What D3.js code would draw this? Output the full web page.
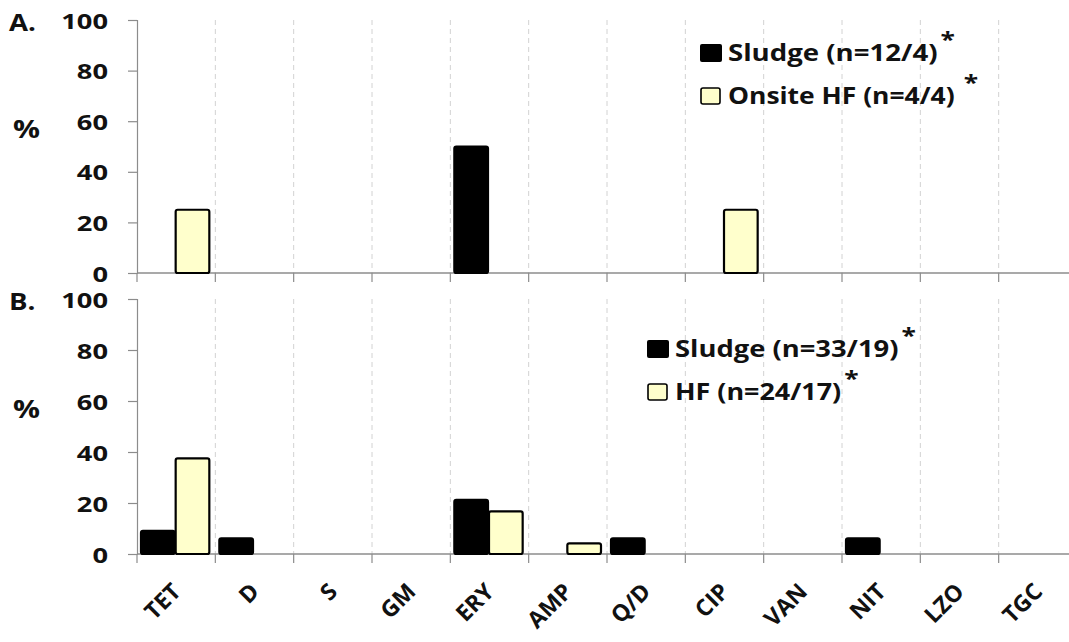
<!DOCTYPE html>
<html>
<head>
<meta charset="utf-8">
<script src="https://cdn.jsdelivr.net/npm/d3@7/dist/d3.min.js"></script>
<style>
  html, body { margin: 0; padding: 0; background: #fff; }
  svg { display: block; font-family: "Open Sans", Lato, sans-serif; font-weight: bold; }
</style>
</head>
<body>
<svg id="chart" width="1069" height="642"></svg>
<script>
// Antibiotic classes on the shared x axis
const categories = ["TET", "D", "S", "GM", "ERY", "AMP", "Q/D", "CIP", "VAN", "NIT", "LZO", "TGC"];
const yTicks = [0, 20, 40, 60, 80, 100];

// Panel A: sludge vs onsite HF, % resistant
const sludgeA = [0, 0, 0, 0, 50, 0, 0, 0, 0, 0, 0, 0];
const onsiteHFA = [25, 0, 0, 0, 0, 0, 0, 25, 0, 0, 0, 0];

// Panel B: sludge vs HF, % resistant
const sludgeB = [9.1, 6.1, 0, 0, 21.2, 0, 6.1, 0, 0, 6.1, 0, 0];
const hfB = [37.5, 0, 0, 0, 16.7, 4.2, 0, 0, 0, 0, 0, 0];

const legendA = ["Sludge (n=12/4)", "Onsite HF (n=4/4)"];
const legendB = ["Sludge (n=33/19)", "HF (n=24/17)"];
const seriesColors = ["#000000", "#ffffcc"];

const svg = d3.select("#chart");
const axisColor = "#8c8c8c";
const textColor = "#111";
const stretch = 1.2;   // wide lettering used throughout

const x = d3.scaleBand().domain(categories).range([137, 1077]);
const xSub = d3.scaleBand().domain([0, 1]).range([3, x.bandwidth() - 6]);

// text placed at (px, py), widened horizontally
function wideText(parent, str, px, py, size, sx) {
  return parent.append("text")
    .attr("transform", `translate(${px},${py}) scale(${sx || stretch},1)`)
    .attr("font-size", size)
    .attr("fill", textColor)
    .text(str);
}

function panel(opts) {
  const y = d3.scaleLinear().domain([0, 100]).range([opts.bottom, opts.top]);
  const g = svg.append("g");

  // dashed vertical separators between categories
  g.selectAll("line.grid")
    .data(categories.slice(1))
    .join("line")
    .attr("x1", d => x(d)).attr("x2", d => x(d))
    .attr("y1", opts.top).attr("y2", opts.bottom)
    .attr("stroke", "#d2d2d2").attr("stroke-width", 1)
    .attr("stroke-dasharray", "5,4");

  // y axis
  const yAxis = d3.axisLeft(y).tickValues(yTicks).tickSize(9).tickPadding(0);
  const ya = g.append("g").attr("transform", `translate(${x.range()[0]},0)`).call(yAxis);
  ya.select(".domain").attr("stroke", axisColor).attr("stroke-width", 1.2);
  ya.selectAll(".tick line").attr("stroke", axisColor).attr("stroke-width", 1.2);
  ya.selectAll(".tick text")
    .attr("x", null).attr("dy", null)
    .attr("transform", `translate(-29,8) scale(1.24,1)`)
    .attr("font-size", 22).attr("font-weight", "bold")
    .attr("font-family", "'Open Sans', sans-serif").attr("fill", textColor);

  // x axis with ticks on category boundaries
  const xa = g.append("g");
  xa.append("line")
    .attr("x1", x.range()[0]).attr("x2", 1069)
    .attr("y1", opts.bottom).attr("y2", opts.bottom)
    .attr("stroke", axisColor).attr("stroke-width", 1.5);
  xa.selectAll("line.tk")
    .data(categories)
    .join("line")
    .attr("class", "tk")
    .attr("x1", d => x(d)).attr("x2", d => x(d))
    .attr("y1", opts.bottom).attr("y2", opts.bottom + 9)
    .attr("stroke", axisColor).attr("stroke-width", 1.2);

  // bars
  [opts.s1, opts.s2].forEach((vals, si) => {
    g.selectAll(null)
      .data(vals.map((v, i) => ({ v, c: categories[i] })).filter(d => d.v > 0))
      .join("rect")
      .attr("x", d => x(d.c) + xSub(si) + 1)
      .attr("width", xSub.bandwidth() - 1)
      .attr("y", d => y(d.v))
      .attr("height", d => y(0) - y(d.v))
      .attr("rx", 2)
      .attr("fill", seriesColors[si])
      .attr("stroke", "#000").attr("stroke-width", 2.2);
  });

  // panel label and unit
  wideText(g, opts.label, 9, opts.top + 11, 23);
  wideText(g, "%", 13, y(60) + 17, 25);

  // legend
  opts.legend.forEach((t, i) => {
    const lx = opts.legendX, ly = opts.legendY + i * opts.legendGap;
    const filled = i === 0;
    g.append("rect")
      .attr("x", lx + (filled ? 0 : 1)).attr("y", ly - (filled ? 17 : 16))
      .attr("width", filled ? 22 : 19).attr("height", filled ? 18 : 16).attr("rx", 2)
      .attr("fill", seriesColors[i]).attr("stroke", "#000").attr("stroke-width", filled ? 0 : 1.6);
    const sx = opts.textStretch[i];
    const tx = wideText(g, t, lx + 28, ly, 23, sx);
    const w = tx.node().getComputedTextLength() * sx;
    wideText(g, "*", lx + 28 + w + opts.starGap[i], ly - 14, 22);
  });
}

panel({ top: 20, bottom: 273, s1: sludgeA, s2: onsiteHFA, label: "A.", legend: legendA,
        legendX: 700, legendY: 61, legendGap: 43, starGap: [3, 9], textStretch: [1.2, 1.15] });
panel({ top: 299, bottom: 554, s1: sludgeB, s2: hfB, label: "B.", legend: legendB,
        legendX: 647, legendY: 357, legendGap: 43, starGap: [3, 3], textStretch: [1.19, 1.17] });

// rotated category labels under the lower panel
svg.append("g").selectAll("text")
  .data(categories)
  .join("text")
  .attr("transform", d => `translate(${x(d) + x.bandwidth() / 2 + 6},${593}) rotate(-45)`)
  .attr("text-anchor", "end")
  .attr("font-size", 23)
  .attr("fill", textColor)
  .text(d => d);
</script>
</body>
</html>
